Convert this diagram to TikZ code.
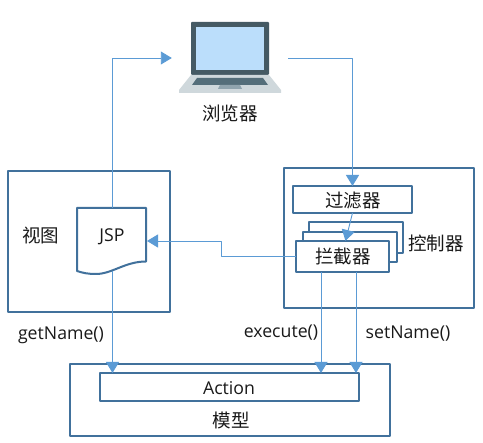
\documentclass[tikz,border=0pt]{standalone}
\usepackage{fontspec}
\setmainfont{Open Sans}
\newfontfamily\cjk{Noto Sans CJK SC}
\usetikzlibrary{arrows.meta}
\definecolor{boxblue}{HTML}{41719C}
\definecolor{linkblue}{HTML}{5B9BD5}
\tikzset{
	box/.style={draw=boxblue,line width=2pt,fill=white,inner sep=0pt,outer sep=0pt,anchor=north west},
	link/.style={draw=linkblue,line width=0.9pt,-{Triangle[length=11pt,width=13pt]}},
	lbl/.style={font=\fontsize{17.7}{20}\selectfont,text=black!90,inner sep=0pt},
	cjklbl/.style={font=\cjk\fontsize{18.5}{20}\selectfont,text=black!90,inner sep=0pt},
}
\begin{document}
\begin{tikzpicture}[x=1pt,y=-1pt,line join=round]
	\useasboundingbox (0,0) rectangle (483,443);
	% outer boxes
	\node[box,minimum width=162pt,minimum height=141pt] (view) at (7.5,171) {};
	\node[box,minimum width=190pt,minimum height=140pt] (ctrl) at (284,168) {};
	\node[box,minimum width=320pt,minimum height=72pt] (model) at (70,364) {};
	\node[box,minimum width=259pt,minimum height=28pt] (action) at (100,373) {};
	\node[box,minimum width=119pt,minimum height=27pt] (filter) at (293,186) {};
	% stack of interceptors
	\node[box,minimum width=94pt,minimum height=31pt] (back) at (309,222) {};
	\node[box,minimum width=94pt,minimum height=30pt] (mid) at (303,232) {};
	\node[box,minimum width=93pt,minimum height=31pt] (inter) at (296,241) {};
	% laptop
	\fill[color={rgb,255:red,69;green,90;blue,100},rounded corners=1pt] (191,22) rectangle (269,75);
	\fill[color={rgb,255:red,187;green,222;blue,251}] (196,27) rectangle (264,70);
	\fill[color={rgb,255:red,207;green,216;blue,220}] (191,75)--(269,75)--(281,90)--(281,93)--(179,93)--(179,90)--cycle;
	\fill[color={rgb,255:red,84;green,110;blue,122}] (197,78)--(263,78)--(268,85)--(192,85)--cycle;
	\fill[color={rgb,255:red,144;green,164;blue,174}] (220,85)--(240,85)--(242,89)--(218,89)--cycle;
	\node[minimum width=116pt,minimum height=71pt,inner sep=0pt] (laptop) at (230,58) {};
	% jsp page
	\node[inner sep=0pt,outer sep=0pt,minimum width=69pt,minimum height=66pt,anchor=north west] (jsp) at (77,208) {};
	\draw[boxblue,line width=2pt] (jsp.north west)--(jsp.north east)--(146,261.5)
		.. controls (125,261.5) and (112,274) .. (96,274)
		.. controls (88,274) and (83,273) .. (77,271)--cycle;
	% links
	\coordinate (jspout) at (112.5,271);
	\coordinate (exec) at (321,272);
	\coordinate (setn) at (356,272);
	\draw[link] (jspout |- jsp.north)|-(laptop.west);
	\draw[link] (laptop.east)-|(filter.north);
	\draw[link] (filter.south)--([xshift=3pt]inter.north);
	\draw[link] (inter.west)-|(221,241)--([xshift=1pt]jsp.east);
	\draw[link] (jspout)--(jspout |- action.north);
	\draw[link] (exec)--(exec |- action.north);
	\draw[link] (setn)--(setn |- action.north);
	% labels
	\node[cjklbl] (browser) at (230,113) {浏览器};
	\node[cjklbl] (viewlbl) at (41,236) {视图};
	\node[lbl] (jsplbl) at (112,237) {JSP};
	\node[cjklbl] (filterlbl) at (353,201) {过滤器};
	\node[cjklbl] (ctrllbl) at (436,243) {控制器};
	\node[cjklbl] (interlbl) at (343,257) {拦截器};
	\node[lbl] (getname) at (61,335) {getName()};
	\node[lbl] (execute) at (281,333) {execute()};
	\node[lbl] (setname) at (408,334) {setName()};
	\node[lbl] (actionlbl) at (229,388.5) {Action};
	\node[cjklbl] (modellbl) at (231,420) {模型};
\end{tikzpicture}
\end{document}
